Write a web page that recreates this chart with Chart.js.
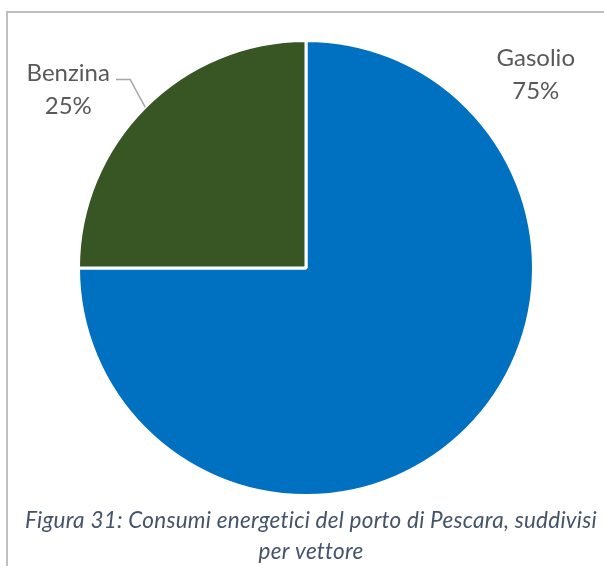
<!DOCTYPE html>
<html lang="it">
<head>
<meta charset="utf-8">
<title>Consumi energetici del porto di Pescara</title>
<script src="https://cdn.jsdelivr.net/npm/chart.js@4/dist/chart.umd.min.js"></script>
<style>
  html, body { margin: 0; padding: 0; background: #ffffff; }
  #wrap { position: relative; width: 604px; height: 566px; overflow: hidden; }
  #frame {
    position: absolute; left: 6px; top: 11px; right: -2px; bottom: -2px;
    border-top: 2px solid #BFBFBF; border-left: 2px solid #BFBFBF;
  }
  canvas { position: absolute; left: 0; top: 0; }
</style>
</head>
<body>
<div id="wrap">
  <div id="frame"></div>
  <canvas id="chart" width="604" height="566"></canvas>
</div>
<script>
// Energy consumption of the port of Pescara, split by fuel
const categories = ['Gasolio', 'Benzina'];
const shares = [75, 25];
const sliceColors = ['#0070C0', '#375623'];
const captionLines = [
  'Figura 31: Consumi energetici del porto di Pescara, suddivisi',
  'per vettore'
];

// Where each data label sits, relative to the pie centre, in radii
const labelPlacement = [
  { dx: 1.01, dy: -0.886, leader: false },
  { dx: -1.045, dy: -0.82, leader: true }
];

const labelFont = '24px Lato, "Open Sans", sans-serif';
const labelColor = '#595959';
const lineGap = 33;

const pieLabels = {
  id: 'pieLabels',
  afterDatasetsDraw(chart) {
    const ctx = chart.ctx;
    const meta = chart.getDatasetMeta(0);
    ctx.save();
    ctx.font = labelFont;
    ctx.fillStyle = labelColor;
    ctx.textAlign = 'center';
    ctx.textBaseline = 'alphabetic';
    meta.data.forEach((arc, i) => {
      const p = labelPlacement[i];
      const r = arc.outerRadius;
      const x = arc.x + p.dx * r;
      const y = arc.y + p.dy * r;
      const name = chart.data.labels[i];
      const pct = chart.data.datasets[0].data[i] + '%';
      ctx.fillText(name, x, y);
      ctx.fillText(pct, x, y + lineGap);
      if (p.leader) {
        const mid = (arc.startAngle + arc.endAngle) / 2;
        const ex = arc.x + Math.cos(mid) * r;
        const ey = arc.y + Math.sin(mid) * r;
        const w = ctx.measureText(name).width;
        const startX = x + w / 2 + 6;
        const lineY = y - 2;
        ctx.strokeStyle = '#A6A6A6';
        ctx.lineWidth = 1.5;
        ctx.beginPath();
        ctx.moveTo(startX, lineY);
        ctx.lineTo(ex - 15, lineY);
        ctx.lineTo(ex, ey);
        ctx.stroke();
      }
    });
    ctx.restore();
  }
};

const caption = {
  id: 'caption',
  afterDraw(chart) {
    const ctx = chart.ctx;
    ctx.save();
    ctx.font = 'italic 22.5px Lato, "Open Sans", sans-serif';
    // a small tracking value keeps the font's ligatures (tt, ti) apart
    if ('letterSpacing' in ctx) ctx.letterSpacing = '0.25px';
    ctx.fillStyle = '#44546A';
    ctx.textAlign = 'center';
    ctx.textBaseline = 'alphabetic';
    const cx = 311;
    captionLines.forEach((t, i) => ctx.fillText(t, cx, 528 + i * 31));
    ctx.restore();
  }
};

new Chart(document.getElementById('chart'), {
  type: 'pie',
  data: {
    labels: categories,
    datasets: [{
      data: shares,
      backgroundColor: sliceColors,
      borderColor: '#ffffff',
      borderWidth: 3
    }]
  },
  options: {
    responsive: false,
    animation: false,
    events: [],
    layout: { padding: { top: 38, bottom: 68, left: 77, right: 69 } },
    plugins: {
      legend: { display: false },
      tooltip: { enabled: false },
      title: { display: false }
    }
  },
  plugins: [pieLabels, caption]
});
</script>
</body>
</html>
